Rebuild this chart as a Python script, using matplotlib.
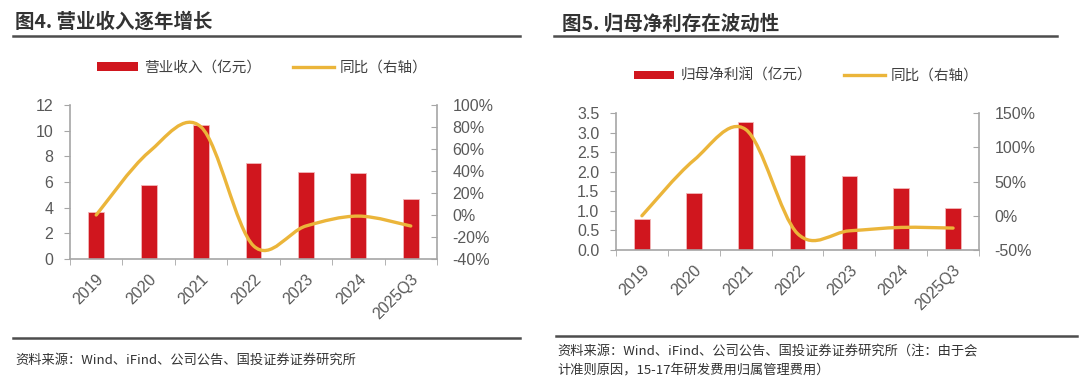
import matplotlib
matplotlib.use('Agg')
import matplotlib.pyplot as plt
import numpy as np
from matplotlib.path import Path
from matplotlib.patches import PathPatch, Patch
from matplotlib.lines import Line2D
from matplotlib.ticker import FuncFormatter

plt.rcParams['font.family'] = ['Liberation Sans', 'Noto Sans CJK SC', 'DejaVu Sans']

# --- data ---
years = ['2019', '2020', '2021', '2022', '2023', '2024', '2025Q3']
revenue = [3.7, 5.8, 10.45, 7.5, 6.75, 6.7, 4.65]          # 亿元
revenue_yoy = [0.0, 57, 80, -28, -10, -1, -10]               # %
profit = [0.8, 1.45, 3.28, 2.43, 1.9, 1.58, 1.08]           # 亿元
profit_yoy = [0.0, 81, 126, -26, -22, -17, -18]              # %

RED = '#D0161E'
GOLD = '#EBB53A'
GREY = '#595959'
SPINE = '#A6A6A6'
CJK = ['Noto Sans CJK SC', 'DejaVu Sans']


def smooth_path(x, y):
    # Excel-like smoothed line: Catmull-Rom segments as cubic Bezier curves
    x = np.asarray(x, float)
    y = np.asarray(y, float)
    pts = np.column_stack([x, y])
    n = len(pts)
    verts = [pts[0]]
    codes = [Path.MOVETO]
    for i in range(n - 1):
        p0 = pts[i - 1] if i > 0 else pts[i]
        p1 = pts[i]
        p2 = pts[i + 1]
        p3 = pts[i + 2] if i + 2 < n else pts[i + 1]
        c1 = p1 + (p2 - p0) / 6.0
        c2 = p2 - (p3 - p1) / 6.0
        verts += [c1, c2, p2]
        codes += [Path.CURVE4] * 3
    return Path(verts, codes)


def draw_panel(ax, bars, yoy, ylim, yticks, y2lim, y2ticks, fmt_left):
    x = np.arange(len(years))
    ax.bar(x, bars, width=0.3, color=RED, edgecolor='#F2B8BA', linewidth=0.6, zorder=2)
    ax.set_xlim(-0.5, len(years) - 0.5)
    ax.set_ylim(*ylim)
    ax.set_yticks(yticks)
    ax.yaxis.set_major_formatter(FuncFormatter(fmt_left))
    ax.set_xticks(x)
    ax.set_xticklabels(years, rotation=45, ha='right', rotation_mode='anchor')
    ax.set_xticks(np.arange(-0.5, len(years)), minor=True)
    ax.tick_params(axis='x', which='major', length=0, colors=GREY, labelsize=11.5, pad=9)
    ax.tick_params(axis='x', which='minor', length=4, color=SPINE, direction='out')
    ax.tick_params(axis='y', length=4, color=SPINE, colors=GREY, labelsize=11.5,
                   direction='out', pad=8)
    for s in ['top', 'right']:
        ax.spines[s].set_visible(False)
    for s in ['left', 'bottom']:
        ax.spines[s].set_color(SPINE)
        ax.spines[s].set_linewidth(1.2)

    ax2 = ax.twinx()
    ax2.set_ylim(*y2lim)
    ax2.set_yticks(y2ticks)
    ax2.yaxis.set_major_formatter(FuncFormatter(lambda v, p: f'{v:.0f}%'))
    ax2.tick_params(axis='y', length=4, color=SPINE, colors=GREY, labelsize=11.5,
                    direction='in', pad=11)
    for s in ['top', 'left', 'bottom']:
        ax2.spines[s].set_visible(False)
    ax2.spines['right'].set_color(SPINE)
    ax2.spines['right'].set_linewidth(1.2)
    patch = PathPatch(smooth_path(x, yoy), facecolor='none', edgecolor=GOLD,
                      linewidth=2.4, capstyle='round', zorder=3)
    ax2.add_patch(patch)
    return ax2


fig = plt.figure(figsize=(10.8, 3.82), dpi=100)

ax_l = fig.add_axes([70 / 1080, 1 - 259 / 382, 367 / 1080, 154 / 382])
draw_panel(ax_l, revenue, revenue_yoy, (0, 12), [0, 2, 4, 6, 8, 10, 12],
           (-40, 100), [-40, -20, 0, 20, 40, 60, 80, 100], lambda v, p: f'{v:.0f}')

ax_r = fig.add_axes([616 / 1080, 1 - 250 / 382, 363 / 1080, 137 / 382])
draw_panel(ax_r, profit, profit_yoy, (0, 3.5), [0, 0.5, 1, 1.5, 2, 2.5, 3, 3.5],
           (-50, 150), [-50, 0, 50, 100, 150], lambda v, p: f'{v:.1f}')

# titles and rules
fig.text(15 / 1080, 1 - 22 / 382, '图4. 营业收入逐年增长', family=CJK, fontsize=14,
         fontweight='bold', color='#333333', va='center', ha='left')
fig.text(562 / 1080, 1 - 24 / 382, '图5. 归母净利存在波动性', family=CJK, fontsize=14,
         fontweight='bold', color='#333333', va='center', ha='left')
for x0, x1, yy in [(13, 520, 36), (554, 1057, 36), (13, 520, 338), (556, 1077, 336)]:
    fig.add_artist(Line2D([x0 / 1080, x1 / 1080], [1 - yy / 382] * 2,
                          color='#4D4D4D', linewidth=1.8))

# legends
def add_legend(label, cx, cy):
    handles = [Patch(facecolor=RED, edgecolor='none'),
               Line2D([], [], color=GOLD, linewidth=2.4)]
    fig.legend(handles, [label, '同比（右轴）'], loc='center', ncol=2,
               bbox_to_anchor=(cx, cy), frameon=False, handlelength=2.8,
               handleheight=0.55, columnspacing=2.2, handletextpad=0.4,
               prop={'family': CJK, 'size': 10.5}, labelcolor='#404040')

add_legend('营业收入（亿元）', 262 / 1080, 1 - 68 / 382)
add_legend('归母净利润（亿元）', 806 / 1080, 1 - 76 / 382)

# sources
fig.text(15 / 1080, 1 - 360 / 382, '资料来源：Wind、iFind、公司公告、国投证券证券研究所',
         family=CJK, fontsize=9.5, color='#333333', va='center', ha='left')
fig.text(557 / 1080, 1 - 351 / 382,
         '资料来源：Wind、iFind、公司公告、国投证券证券研究所（注：由于会',
         family=CJK, fontsize=9.5, color='#333333', va='center', ha='left')
fig.text(557 / 1080, 1 - 371 / 382, '计准则原因，15-17年研发费用归属管理费用）',
         family=CJK, fontsize=9.5, color='#333333', va='center', ha='left')

fig.savefig('out.png', dpi=100)
